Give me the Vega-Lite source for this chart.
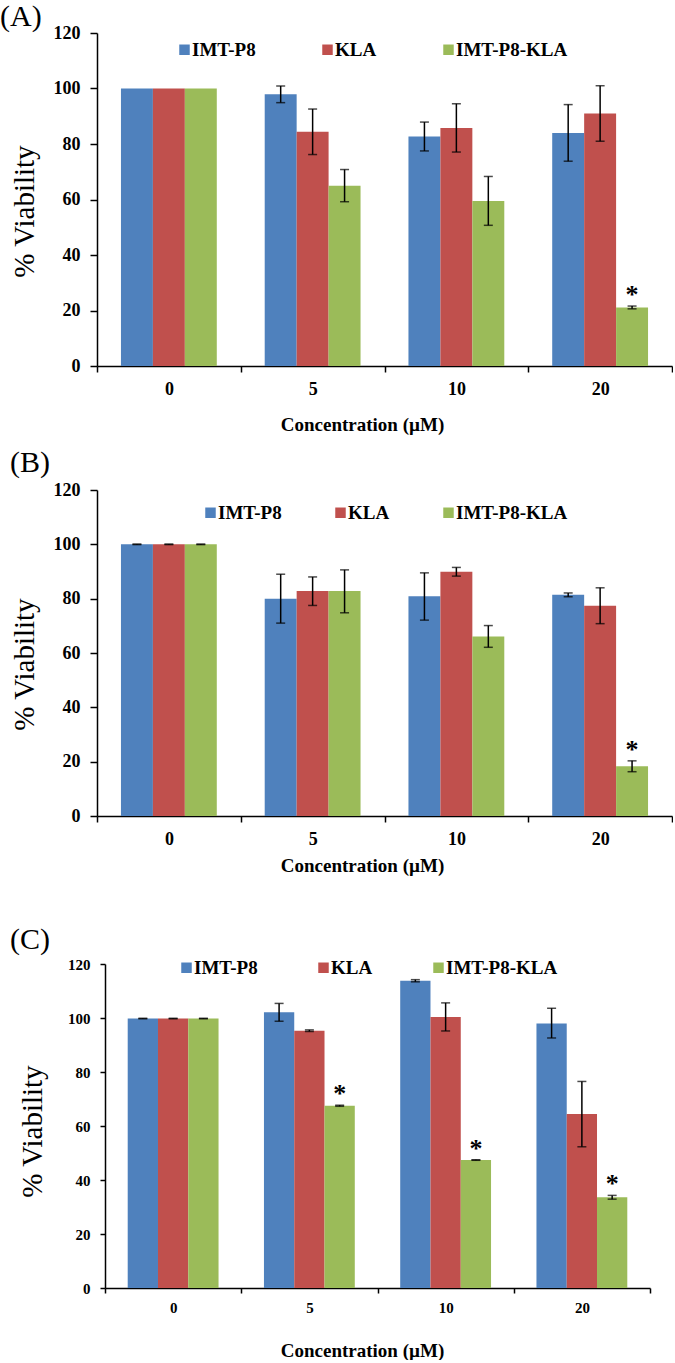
{
  "$schema": "https://vega.github.io/schema/vega-lite/v6.json",
  "padding": {"top": 2, "left": 0, "right": 0, "bottom": 0},
  "background": "white",
  "bounds": "flush",
  "spacing": 124,
  "config": {
    "font": "Liberation Serif",
    "view": {"stroke": null},
    "axis": {"grid": false, "domainColor": "#000", "tickColor": "#000", "labelColor": "#000", "titleColor": "#000", "domainWidth": 1.5, "tickWidth": 1.5, "labelFont": "Liberation Serif", "labelFontWeight": "bold", "titleFont": "Liberation Serif"},
    "legend": {"symbolType": "square", "symbolStrokeWidth": 0, "labelFont": "Liberation Serif", "labelFontWeight": "bold", "labelFontSize": 19, "labelColor": "#000", "padding": 0, "labelOffset": -2, "symbolSize": 110}
  },
  "resolve": {"scale": {"x": "independent", "y": "independent", "xOffset": "independent", "color": "independent"}, "legend": {"color": "independent"}, "axis": {"x": "independent", "y": "independent"}},
  "datasets": {
    "bars": [
      {"panel": "A", "conc": "0", "group": "IMT-P8", "value": 100},
      {"panel": "A", "conc": "0", "group": "KLA", "value": 100},
      {"panel": "A", "conc": "0", "group": "IMT-P8-KLA", "value": 100},
      {"panel": "A", "conc": "5", "group": "IMT-P8", "value": 97.9},
      {"panel": "A", "conc": "5", "group": "KLA", "value": 84.4},
      {"panel": "A", "conc": "5", "group": "IMT-P8-KLA", "value": 65.0},
      {"panel": "A", "conc": "10", "group": "IMT-P8", "value": 82.7},
      {"panel": "A", "conc": "10", "group": "KLA", "value": 85.8},
      {"panel": "A", "conc": "10", "group": "IMT-P8-KLA", "value": 59.5},
      {"panel": "A", "conc": "20", "group": "IMT-P8", "value": 84.0},
      {"panel": "A", "conc": "20", "group": "KLA", "value": 91.0},
      {"panel": "A", "conc": "20", "group": "IMT-P8-KLA", "value": 21.1},
      {"panel": "B", "conc": "0", "group": "IMT-P8", "value": 100},
      {"panel": "B", "conc": "0", "group": "KLA", "value": 100},
      {"panel": "B", "conc": "0", "group": "IMT-P8-KLA", "value": 100},
      {"panel": "B", "conc": "5", "group": "IMT-P8", "value": 80.0},
      {"panel": "B", "conc": "5", "group": "KLA", "value": 82.8},
      {"panel": "B", "conc": "5", "group": "IMT-P8-KLA", "value": 82.8},
      {"panel": "B", "conc": "10", "group": "IMT-P8", "value": 80.9},
      {"panel": "B", "conc": "10", "group": "KLA", "value": 89.9},
      {"panel": "B", "conc": "10", "group": "IMT-P8-KLA", "value": 66.1},
      {"panel": "B", "conc": "20", "group": "IMT-P8", "value": 81.4},
      {"panel": "B", "conc": "20", "group": "KLA", "value": 77.4},
      {"panel": "B", "conc": "20", "group": "IMT-P8-KLA", "value": 18.3},
      {"panel": "C", "conc": "0", "group": "IMT-P8", "value": 99.8},
      {"panel": "C", "conc": "0", "group": "KLA", "value": 99.8},
      {"panel": "C", "conc": "0", "group": "IMT-P8-KLA", "value": 99.8},
      {"panel": "C", "conc": "5", "group": "IMT-P8", "value": 102.1},
      {"panel": "C", "conc": "5", "group": "KLA", "value": 95.3},
      {"panel": "C", "conc": "5", "group": "IMT-P8-KLA", "value": 67.5},
      {"panel": "C", "conc": "10", "group": "IMT-P8", "value": 113.8},
      {"panel": "C", "conc": "10", "group": "KLA", "value": 100.4},
      {"panel": "C", "conc": "10", "group": "IMT-P8-KLA", "value": 47.4},
      {"panel": "C", "conc": "20", "group": "IMT-P8", "value": 98.0},
      {"panel": "C", "conc": "20", "group": "KLA", "value": 64.4},
      {"panel": "C", "conc": "20", "group": "IMT-P8-KLA", "value": 33.6}
    ],
    "errs": [
      {"panel": "A", "conc": "5", "group": "IMT-P8", "lo": 94.9, "hi": 100.9, "sig": false},
      {"panel": "A", "conc": "5", "group": "KLA", "lo": 76.2, "hi": 92.6, "sig": false},
      {"panel": "A", "conc": "5", "group": "IMT-P8-KLA", "lo": 59.2, "hi": 70.8, "sig": false},
      {"panel": "A", "conc": "10", "group": "IMT-P8", "lo": 77.5, "hi": 87.9, "sig": false},
      {"panel": "A", "conc": "10", "group": "KLA", "lo": 77.1, "hi": 94.5, "sig": false},
      {"panel": "A", "conc": "10", "group": "IMT-P8-KLA", "lo": 50.7, "hi": 68.3, "sig": false},
      {"panel": "A", "conc": "20", "group": "IMT-P8", "lo": 73.8, "hi": 94.2, "sig": false},
      {"panel": "A", "conc": "20", "group": "KLA", "lo": 81.0, "hi": 101.0, "sig": false},
      {"panel": "A", "conc": "20", "group": "IMT-P8-KLA", "lo": 20.6, "hi": 21.6, "sig": true},
      {"panel": "B", "conc": "0", "group": "IMT-P8", "lo": 99.9, "hi": 100.1, "sig": false},
      {"panel": "B", "conc": "0", "group": "KLA", "lo": 99.9, "hi": 100.1, "sig": false},
      {"panel": "B", "conc": "0", "group": "IMT-P8-KLA", "lo": 99.9, "hi": 100.1, "sig": false},
      {"panel": "B", "conc": "5", "group": "IMT-P8", "lo": 71.0, "hi": 89.0, "sig": false},
      {"panel": "B", "conc": "5", "group": "KLA", "lo": 77.5, "hi": 88.0, "sig": false},
      {"panel": "B", "conc": "5", "group": "IMT-P8-KLA", "lo": 74.8, "hi": 90.6, "sig": false},
      {"panel": "B", "conc": "10", "group": "IMT-P8", "lo": 72.1, "hi": 89.5, "sig": false},
      {"panel": "B", "conc": "10", "group": "KLA", "lo": 88.3, "hi": 91.5, "sig": false},
      {"panel": "B", "conc": "10", "group": "IMT-P8-KLA", "lo": 62.1, "hi": 70.1, "sig": false},
      {"panel": "B", "conc": "20", "group": "IMT-P8", "lo": 80.7, "hi": 82.1, "sig": false},
      {"panel": "B", "conc": "20", "group": "KLA", "lo": 70.8, "hi": 84.0, "sig": false},
      {"panel": "B", "conc": "20", "group": "IMT-P8-KLA", "lo": 16.3, "hi": 20.3, "sig": true},
      {"panel": "C", "conc": "0", "group": "IMT-P8", "lo": 99.7, "hi": 99.9, "sig": false},
      {"panel": "C", "conc": "0", "group": "KLA", "lo": 99.7, "hi": 99.9, "sig": false},
      {"panel": "C", "conc": "0", "group": "IMT-P8-KLA", "lo": 99.7, "hi": 99.9, "sig": false},
      {"panel": "C", "conc": "5", "group": "IMT-P8", "lo": 98.8, "hi": 105.4, "sig": false},
      {"panel": "C", "conc": "5", "group": "KLA", "lo": 95.0, "hi": 95.6, "sig": false},
      {"panel": "C", "conc": "5", "group": "IMT-P8-KLA", "lo": 67.3, "hi": 67.7, "sig": true},
      {"panel": "C", "conc": "10", "group": "IMT-P8", "lo": 113.4, "hi": 114.2, "sig": false},
      {"panel": "C", "conc": "10", "group": "KLA", "lo": 95.2, "hi": 105.6, "sig": false},
      {"panel": "C", "conc": "10", "group": "IMT-P8-KLA", "lo": 47.3, "hi": 47.5, "sig": true},
      {"panel": "C", "conc": "20", "group": "IMT-P8", "lo": 92.6, "hi": 103.6, "sig": false},
      {"panel": "C", "conc": "20", "group": "KLA", "lo": 52.3, "hi": 76.5, "sig": false},
      {"panel": "C", "conc": "20", "group": "IMT-P8-KLA", "lo": 32.9, "hi": 34.3, "sig": true}
    ]
  },
  "vconcat": [
    {
      "width": 575,
      "height": 333,
      "title": {"text": "(A)", "anchor": "start", "frame": "group", "font": "Liberation Serif", "fontSize": 30, "fontWeight": "normal", "color": "#000", "baseline": "alphabetic", "offset": 0, "dx": -97, "dy": 32},
      "layer": [
        {
          "data": {"name": "bars"},
          "transform": [{"filter": "datum.panel === 'A'"}],
          "mark": {"type": "bar"},
          "encoding": {
            "x": {"field": "conc", "type": "nominal", "scale": {"domain": ["0", "5", "10", "20"], "paddingInner": 0, "paddingOuter": 0},
                  "axis": {"title": "Concentration (µM)", "labelFont": "Liberation Serif", "titleFont": "Liberation Serif", "labelFontWeight": "bold", "labelAngle": 0, "tickBand": "extent", "tickSize": 6, "labelPadding": 8, "labelFontSize": 18, "titleFontSize": 19, "titleFontWeight": "bold", "titleBaseline": "middle", "titleX": 265, "titleY": 58}},
            "xOffset": {"field": "group", "type": "nominal", "scale": {"domain": ["IMT-P8", "KLA", "IMT-P8-KLA"], "paddingInner": 0, "paddingOuter": 0.75}},
            "y": {"field": "value", "type": "quantitative", "scale": {"domain": [0, 120], "nice": false},
                  "axis": {"title": "% Viability", "labelFont": "Liberation Serif", "titleFont": "Liberation Serif", "labelFontWeight": "bold", "values": [0, 20, 40, 60, 80, 100, 120], "tickSize": 7, "labelPadding": 10, "labelFontSize": 18, "titleFontSize": 29, "titleFontWeight": "normal", "titleBaseline": "middle", "titleX": -73, "titleY": 178}},
            "color": {"field": "group", "type": "nominal", "scale": {"domain": ["IMT-P8", "KLA", "IMT-P8-KLA"], "range": ["#4F81BD", "#C0504D", "#9BBB59"]},
                      "legend": {"title": null, "orient": "none", "direction": "horizontal", "legendX": 78, "legendY": 7, "columnPadding": 62, "labelFont": "Liberation Serif", "labelFontWeight": "bold", "labelFontSize": 19}}
          }
        },
        {
          "data": {"name": "errs"},
          "transform": [{"filter": "datum.panel === 'A'"}],
          "mark": {"type": "rule", "color": "#000", "strokeWidth": 1.5},
          "encoding": {
            "x": {"field": "conc", "type": "nominal"},
            "xOffset": {"field": "group", "type": "nominal"},
            "y": {"field": "lo", "type": "quantitative"},
            "y2": {"field": "hi"}
          }
        },
        {
          "data": {"name": "errs"},
          "transform": [{"filter": "datum.panel === 'A'"}],
          "mark": {"type": "tick", "orient": "horizontal", "color": "#000", "size": 9, "thickness": 1.5},
          "encoding": {
            "x": {"field": "conc", "type": "nominal"},
            "xOffset": {"field": "group", "type": "nominal"},
            "y": {"field": "lo", "type": "quantitative"}
          }
        },
        {
          "data": {"name": "errs"},
          "transform": [{"filter": "datum.panel === 'A'"}],
          "mark": {"type": "tick", "orient": "horizontal", "color": "#000", "size": 9, "thickness": 1.5},
          "encoding": {
            "x": {"field": "conc", "type": "nominal"},
            "xOffset": {"field": "group", "type": "nominal"},
            "y": {"field": "hi", "type": "quantitative"}
          }
        },
        {
          "data": {"name": "errs"},
          "transform": [{"filter": "datum.panel === 'A' && datum.sig"}],
          "mark": {"type": "text", "text": "*", "font": "Liberation Serif", "fontSize": 26, "fontWeight": "bold", "baseline": "alphabetic", "dy": -3, "color": "#000"},
          "encoding": {
            "x": {"field": "conc", "type": "nominal"},
            "xOffset": {"field": "group", "type": "nominal"},
            "y": {"field": "hi", "type": "quantitative"}
          }
        }
      ]
    },
    {
      "width": 575,
      "height": 326,
      "title": {"text": "(B)", "anchor": "start", "frame": "group", "font": "Liberation Serif", "fontSize": 30, "fontWeight": "normal", "color": "#000", "baseline": "alphabetic", "offset": 0, "dx": -87, "dy": 21},
      "layer": [
        {
          "data": {"name": "bars"},
          "transform": [{"filter": "datum.panel === 'B'"}],
          "mark": {"type": "bar"},
          "encoding": {
            "x": {"field": "conc", "type": "nominal", "scale": {"domain": ["0", "5", "10", "20"], "paddingInner": 0, "paddingOuter": 0},
                  "axis": {"title": "Concentration (µM)", "labelFont": "Liberation Serif", "titleFont": "Liberation Serif", "labelFontWeight": "bold", "labelAngle": 0, "tickBand": "extent", "tickSize": 6, "labelPadding": 8, "labelFontSize": 18, "titleFontSize": 19, "titleFontWeight": "bold", "titleBaseline": "middle", "titleX": 265, "titleY": 49}},
            "xOffset": {"field": "group", "type": "nominal", "scale": {"domain": ["IMT-P8", "KLA", "IMT-P8-KLA"], "paddingInner": 0, "paddingOuter": 0.75}},
            "y": {"field": "value", "type": "quantitative", "scale": {"domain": [0, 120], "nice": false},
                  "axis": {"title": "% Viability", "labelFont": "Liberation Serif", "titleFont": "Liberation Serif", "labelFontWeight": "bold", "values": [0, 20, 40, 60, 80, 100, 120], "tickSize": 7, "labelPadding": 10, "labelFontSize": 18, "titleFontSize": 29, "titleFontWeight": "normal", "titleBaseline": "middle", "titleX": -73, "titleY": 174}},
            "color": {"field": "group", "type": "nominal", "scale": {"domain": ["IMT-P8", "KLA", "IMT-P8-KLA"], "range": ["#4F81BD", "#C0504D", "#9BBB59"]},
                      "legend": {"title": null, "orient": "none", "direction": "horizontal", "legendX": 104, "legendY": 13, "columnPadding": 49, "labelFont": "Liberation Serif", "labelFontWeight": "bold", "labelFontSize": 19}}
          }
        },
        {
          "data": {"name": "errs"},
          "transform": [{"filter": "datum.panel === 'B'"}],
          "mark": {"type": "rule", "color": "#000", "strokeWidth": 1.5},
          "encoding": {
            "x": {"field": "conc", "type": "nominal"},
            "xOffset": {"field": "group", "type": "nominal"},
            "y": {"field": "lo", "type": "quantitative"},
            "y2": {"field": "hi"}
          }
        },
        {
          "data": {"name": "errs"},
          "transform": [{"filter": "datum.panel === 'B'"}],
          "mark": {"type": "tick", "orient": "horizontal", "color": "#000", "size": 9, "thickness": 1.5},
          "encoding": {
            "x": {"field": "conc", "type": "nominal"},
            "xOffset": {"field": "group", "type": "nominal"},
            "y": {"field": "lo", "type": "quantitative"}
          }
        },
        {
          "data": {"name": "errs"},
          "transform": [{"filter": "datum.panel === 'B'"}],
          "mark": {"type": "tick", "orient": "horizontal", "color": "#000", "size": 9, "thickness": 1.5},
          "encoding": {
            "x": {"field": "conc", "type": "nominal"},
            "xOffset": {"field": "group", "type": "nominal"},
            "y": {"field": "hi", "type": "quantitative"}
          }
        },
        {
          "data": {"name": "errs"},
          "transform": [{"filter": "datum.panel === 'B' && datum.sig"}],
          "mark": {"type": "text", "text": "*", "font": "Liberation Serif", "fontSize": 26, "fontWeight": "bold", "baseline": "alphabetic", "dy": -3, "color": "#000"},
          "encoding": {
            "x": {"field": "conc", "type": "nominal"},
            "xOffset": {"field": "group", "type": "nominal"},
            "y": {"field": "hi", "type": "quantitative"}
          }
        }
      ]
    },
    {
      "width": 553,
      "height": 348,
      "title": {"text": "(C)", "anchor": "start", "frame": "group", "font": "Liberation Serif", "fontSize": 30, "fontWeight": "normal", "color": "#000", "baseline": "alphabetic", "offset": 0, "dx": -87, "dy": 39},
      "layer": [
        {
          "data": {"name": "bars"},
          "transform": [{"filter": "datum.panel === 'C'"}],
          "mark": {"type": "bar"},
          "encoding": {
            "x": {"field": "conc", "type": "nominal", "scale": {"domain": ["0", "5", "10", "20"], "paddingInner": 0, "paddingOuter": 0, "range": [8, 553]},
                  "axis": {"title": "Concentration (µM)", "labelFont": "Liberation Serif", "titleFont": "Liberation Serif", "labelFontWeight": "bold", "labelAngle": 0, "tickBand": "extent", "tickSize": 5, "labelPadding": 7, "labelFontSize": 15, "titleFontSize": 19, "titleFontWeight": "bold", "titleBaseline": "middle", "titleX": 265, "titleY": 62}},
            "xOffset": {"field": "group", "type": "nominal", "scale": {"domain": ["IMT-P8", "KLA", "IMT-P8-KLA"], "paddingInner": 0, "paddingOuter": 0.75}},
            "y": {"field": "value", "type": "quantitative", "scale": {"domain": [0, 120], "nice": false, "range": [348, 24]},
                  "axis": {"title": "% Viability", "labelFont": "Liberation Serif", "titleFont": "Liberation Serif", "labelFontWeight": "bold", "values": [0, 20, 40, 60, 80, 100, 120], "offset": -8, "tickSize": 5, "labelPadding": 10, "labelFontSize": 15, "titleFontSize": 29, "titleFontWeight": "normal", "titleBaseline": "middle", "titleX": -73, "titleY": 191}},
            "color": {"field": "group", "type": "nominal", "scale": {"domain": ["IMT-P8", "KLA", "IMT-P8-KLA"], "range": ["#4F81BD", "#C0504D", "#9BBB59"]},
                      "legend": {"title": null, "orient": "none", "direction": "horizontal", "legendX": 80, "legendY": 18, "columnPadding": 56, "labelFont": "Liberation Serif", "labelFontWeight": "bold", "labelFontSize": 19}}
          }
        },
        {
          "data": {"name": "errs"},
          "transform": [{"filter": "datum.panel === 'C'"}],
          "mark": {"type": "rule", "color": "#000", "strokeWidth": 1.5},
          "encoding": {
            "x": {"field": "conc", "type": "nominal"},
            "xOffset": {"field": "group", "type": "nominal"},
            "y": {"field": "lo", "type": "quantitative"},
            "y2": {"field": "hi"}
          }
        },
        {
          "data": {"name": "errs"},
          "transform": [{"filter": "datum.panel === 'C'"}],
          "mark": {"type": "tick", "orient": "horizontal", "color": "#000", "size": 9, "thickness": 1.5},
          "encoding": {
            "x": {"field": "conc", "type": "nominal"},
            "xOffset": {"field": "group", "type": "nominal"},
            "y": {"field": "lo", "type": "quantitative"}
          }
        },
        {
          "data": {"name": "errs"},
          "transform": [{"filter": "datum.panel === 'C'"}],
          "mark": {"type": "tick", "orient": "horizontal", "color": "#000", "size": 9, "thickness": 1.5},
          "encoding": {
            "x": {"field": "conc", "type": "nominal"},
            "xOffset": {"field": "group", "type": "nominal"},
            "y": {"field": "hi", "type": "quantitative"}
          }
        },
        {
          "data": {"name": "errs"},
          "transform": [{"filter": "datum.panel === 'C' && datum.sig"}],
          "mark": {"type": "text", "text": "*", "font": "Liberation Serif", "fontSize": 26, "fontWeight": "bold", "baseline": "alphabetic", "dy": -3, "color": "#000"},
          "encoding": {
            "x": {"field": "conc", "type": "nominal"},
            "xOffset": {"field": "group", "type": "nominal"},
            "y": {"field": "hi", "type": "quantitative"}
          }
        }
      ]
    }
  ]
}
